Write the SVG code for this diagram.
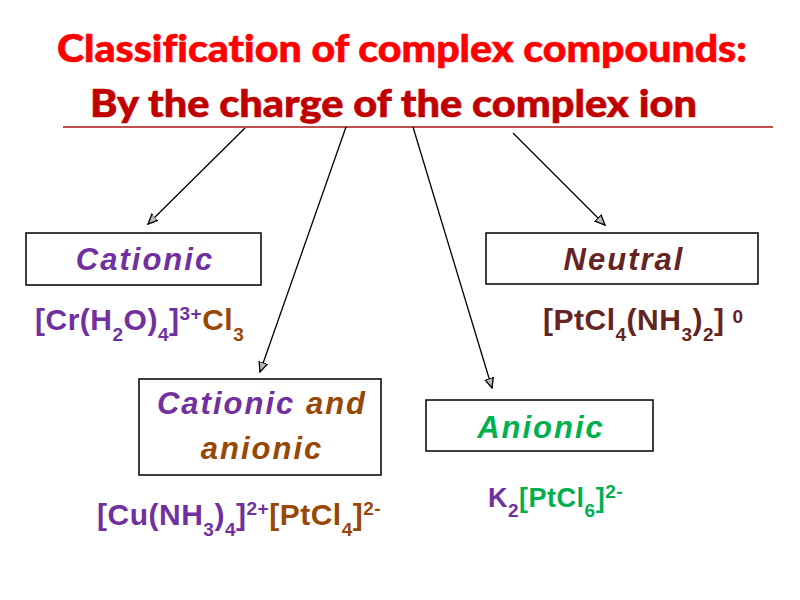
<svg xmlns="http://www.w3.org/2000/svg" width="800" height="600" viewBox="0 0 800 600">
<style>
.title{font-family:Lato,"Open Sans","Liberation Sans",sans-serif;font-weight:900;font-size:38px;stroke-width:0.6px;font-variant-ligatures:none}
.box{fill:#fff;stroke:#000;stroke-width:1.5}
.lbl{font-family:"Liberation Sans",Arial,sans-serif;font-weight:bold;font-style:italic;font-size:31px;letter-spacing:2px;text-anchor:middle}
.f{font-family:"Liberation Sans",Arial,sans-serif;font-weight:bold;font-size:30px;letter-spacing:0.5px}
.f2{font-size:27px}
.s{font-size:19px}
.conn line{stroke:#000;stroke-width:1.3;marker-end:url(#ah)}
.pu{fill:#7030A0}.br{fill:#974806}.dr{fill:#632423}.gr{fill:#00B050}
</style>
<defs>
<marker id="ah" viewBox="0 0 10 10" refX="9" refY="5" markerWidth="11" markerHeight="11" markerUnits="userSpaceOnUse" orient="auto">
<path d="M0,1 L9,5 L0,9 Z" fill="#bbb" stroke="#000" stroke-width="1.2"/>
</marker>
</defs>
<rect width="800" height="600" fill="#fff"/>
<g id="title">
<text class="title" x="57" y="62" fill="#FF0000" stroke="#FF0000" textLength="690" lengthAdjust="spacingAndGlyphs">Classification of complex compounds:</text>
<text class="title" x="90" y="117" fill="#C00000" stroke="#C00000" textLength="607" lengthAdjust="spacingAndGlyphs">By the charge of the complex ion</text>
<line x1="63" y1="127" x2="773" y2="127" stroke="#C0504D" stroke-width="2"/>
</g>
<g id="connectors" class="conn">
<line x1="245" y1="128" x2="148" y2="224"/>
<line x1="346" y1="127" x2="260" y2="372"/>
<line x1="413" y1="127" x2="492" y2="388"/>
<line x1="513" y1="133" x2="605" y2="225"/>
</g>
<g id="cationic">
<rect class="box" x="26" y="233" width="235" height="52"/>
<text class="lbl pu" x="145" y="270">Cationic</text>
<text class="f pu" x="35" y="330">[Cr(H<tspan class="s" dy="11">2</tspan><tspan dy="-11">O)</tspan><tspan class="s" dy="11">4</tspan><tspan dy="-11">]</tspan><tspan class="s" dy="-10">3+</tspan><tspan class="br" dy="10">Cl</tspan><tspan class="s br" dy="11">3</tspan></text>
</g>
<g id="neutral">
<rect class="box" x="486" y="233" width="272" height="51"/>
<text class="lbl dr" x="624" y="270">Neutral</text>
<text class="f dr" x="543" y="330">[PtCl<tspan class="s" dy="11">4</tspan><tspan dy="-11">(NH</tspan><tspan class="s" dy="11">3</tspan><tspan dy="-11">)</tspan><tspan class="s" dy="11">2</tspan><tspan dy="-11">]</tspan><tspan class="s" dx="8" dy="-7">0</tspan></text>
</g>
<g id="cationic-anionic">
<rect class="box" x="139" y="379" width="242" height="96"/>
<text class="lbl" x="262" y="414"><tspan class="pu">Cationic</tspan><tspan class="br"> and</tspan></text>
<text class="lbl br" x="262" y="459">anionic</text>
<text class="f pu" x="97" y="525">[Cu(NH<tspan class="s" dy="11">3</tspan><tspan dy="-11">)</tspan><tspan class="s" dy="11">4</tspan><tspan dy="-11">]</tspan><tspan class="s" dy="-10">2+</tspan><tspan class="br" dy="10">[PtCl</tspan><tspan class="s br" dy="11">4</tspan><tspan class="br" dy="-11">]</tspan><tspan class="s br" dy="-10">2-</tspan></text>
</g>
<g id="anionic">
<rect class="box" x="426" y="400" width="227" height="51"/>
<text class="lbl gr" x="541" y="438">Anionic</text>
<text class="f f2 gr" x="488" y="507"><tspan class="pu">K</tspan><tspan class="s pu" dy="10">2</tspan><tspan dy="-10">[PtCl</tspan><tspan class="s" dy="10">6</tspan><tspan dy="-10">]</tspan><tspan class="s" dy="-9">2-</tspan></text>
</g>
</svg>
